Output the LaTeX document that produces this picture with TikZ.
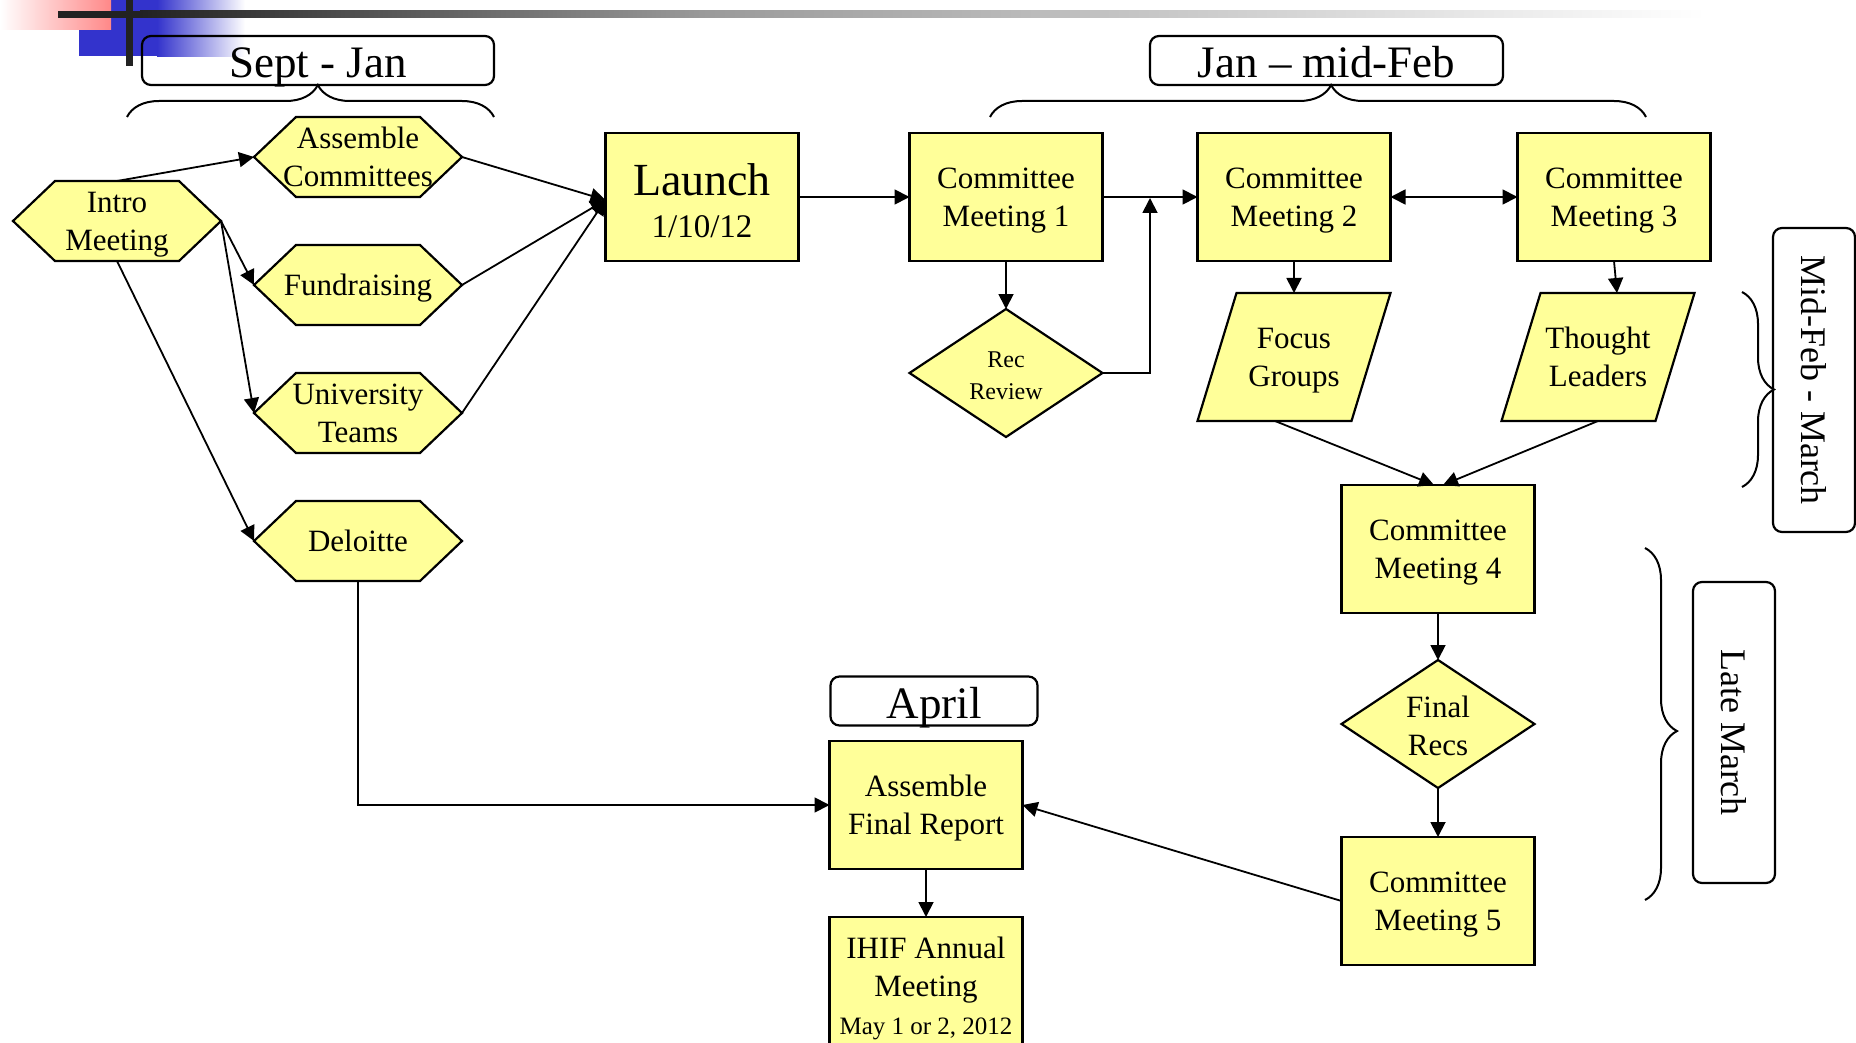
\documentclass[tikz,border=0pt]{standalone}
\usepackage{fontspec}
\setmainfont{Liberation Serif}
\usetikzlibrary{arrows.meta,calc,shapes.geometric,decorations.pathreplacing}

\definecolor{boxyellow}{RGB}{255,255,153}
\definecolor{barblue}{RGB}{51,51,204}
\definecolor{barpink}{RGB}{255,136,136}
\definecolor{bardark}{RGB}{34,34,34}
\definecolor{barmid}{RGB}{153,153,153}

\tikzset{
  ftri/.tip={Triangle[length=15pt,width=15pt]},
  lbl/.style={font=\fontsize{31}{38}\selectfont, align=center, inner sep=0pt, outer sep=0pt,
    text depth=0pt},
  box/.style={lbl, rectangle, draw, line width=2.2pt, fill=boxyellow,
    minimum width=193pt, minimum height=128pt},
  dmd/.style={lbl, diamond, draw, line width=2.2pt, fill=boxyellow,
    minimum width=193pt, minimum height=128pt},
  hexa/.style={lbl, rectangle, fill=white, minimum width=212pt, minimum height=84pt, outer sep=-2pt,
    path picture={
      \coordinate (hc) at (path picture bounding box.center);
      \filldraw[fill=boxyellow, draw=black, line width=2.2pt]
        ($(hc)+(-104,0)$) -- ($(hc)+(-62,-40)$) -- ($(hc)+(62,-40)$) -- ($(hc)+(104,0)$)
        -- ($(hc)+(62,40)$) -- ($(hc)+(-62,40)$) -- cycle;
    }},
  para/.style={lbl, rectangle, fill=white, minimum width=197pt, minimum height=132pt, outer sep=-2pt,
    path picture={
      \coordinate (pc) at (path picture bounding box.center);
      \filldraw[fill=boxyellow, draw=black, line width=2.2pt]
        ($(pc)+(-96.5,64)$) -- ($(pc)+(57.5,64)$) -- ($(pc)+(96.5,-64)$)
        -- ($(pc)+(-57.5,-64)$) -- cycle;
    }},
  period/.style={rectangle, rounded corners=9pt, draw, line width=2.2pt,
    inner sep=0pt, outer sep=0pt, align=center},
  periodh/.style={period, font=\fontsize{45}{48}\selectfont, text height=35pt,
    text depth=0pt, minimum height=49pt},
  periodv/.style={period, font=\fontsize{36}{40}\selectfont, rotate=-90, minimum height=82pt},
  link/.style={line width=1.8pt, -ftri},
  curly/.style={line width=2pt, decorate, decoration={brace, amplitude=32pt, aspect=#1}},
  curly/.default=0.5,
}

\begin{document}
\begin{tikzpicture}[x=1pt, y=-1pt]
\useasboundingbox (0,0) rectangle (1856,1043);

% corner banner
\fill[barblue] (79,0) rectangle (157.5,56);
\shade[left color=barblue, right color=white] (157,0) rectangle (245,57);
\shade[left color=white, right color=barpink] (0,0) rectangle (111,30);
\fill[bardark] (58,11) rectangle (140.5,18);
\shade[left color=bardark, right color=barmid] (140,11) rectangle (700.5,18);
\shade[left color=barmid, right color=white] (700,11) rectangle (1705,18);
\fill[bardark] (126,0) rectangle (133,66);

% preparation stage
\node[hexa] (intro) at (117,221) {Intro\\Meeting};
\node[hexa] (assemble) at (358,157) {Assemble\\Committees};
\node[hexa] (fund) at (358,285) {Fundraising};
\node[hexa] (univ) at (358,413) {University\\Teams};
\node[hexa] (deloitte) at (358,541) {Deloitte};

% launch and committee meetings
\node[box] (launch) at (702,197)
  {{\fontsize{46}{50}\selectfont\rule{0pt}{39pt}Launch}\\[5pt]{\fontsize{33}{38}\selectfont 1/10/12}};
\node[box] (cm1) at (1006,197) {Committee\\Meeting 1};
\node[dmd, font=\fontsize{24}{32}\selectfont] (rec) at (1006,373) {\rule{0pt}{20pt}Rec\\Review};
\node[box] (cm2) at (1294,197) {Committee\\Meeting 2};
\node[box] (cm3) at (1614,197) {Committee\\Meeting 3};
\node[para] (fg) at (1294,357) {Focus\\Groups};
\node[para] (tl) at (1598,357) {Thought\\Leaders};
\node[box] (cm4) at (1438,549) {Committee\\Meeting 4};
\node[dmd] (final) at (1438,724) {\rule{0pt}{25pt}Final\\Recs};
\node[box] (cm5) at (1438,901) {Committee\\Meeting 5};

% report
\node[box] (afr) at (926,805) {Assemble\\Final Report};
\node[box] (ihif) at (926,981)
  {\rule{0pt}{30pt}IHIF Annual\\Meeting\\{\fontsize{25}{30}\selectfont May 1 or 2, 2012}};

% period labels
\node[periodh, minimum width=352pt] (sept) at (318,60.5) {Sept - Jan};
\node[periodh, minimum width=353pt] (janfeb) at (1326.5,60.5) {Jan – mid-Feb};
\node[periodh, minimum width=207pt] (april) at (934,701) {April};
\node[periodv, minimum width=304pt] (midfeb) at (1814,380) {Mid-Feb - March};
\node[periodv, minimum width=301pt] (latemar) at (1734,732.5) {Late March};

% braces
\draw[curly=0.52] (127,117) -- (494,117);
\draw[curly=0.52] (990,117) -- (1646,117);
\draw[curly=0.5] (1742,292) -- (1742,487);
\draw[curly=0.52] (1645,548) -- (1645,900);

% connectors
\coordinate (launchin) at ($(launch.west)+(0,3)$);
\draw[link] (intro.north) -- (assemble.west);
\draw[link] (intro.east) -- (fund.west);
\draw[link] (intro.east) -- (univ.west);
\draw[link] (intro.south) -- (deloitte.west);
\draw[link] (assemble.east) -- (launchin);
\draw[link] (fund.east) -- (launchin);
\draw[link] (univ.east) -- (launchin);
\draw[link] (launch.east) -- (cm1.west);
\draw[link] (cm1.east) -- (cm2.west);
\draw[link] (cm1.south) -- (rec.north);
\coordinate (loopin) at ($(cm1.east)!0.5!(cm2.west)+(0,1)$);
\draw[link] (rec.east) -| (loopin);
\draw[line width=1.8pt, ftri-ftri] (cm2.east) -- (cm3.west);
\draw[link] (cm2.south) -- (fg.north);
\draw[link] (cm3.south) -- ($(tl.north)+(19,0)$);
\draw[link] ($(fg.south)+(-19,0)$) -- ($(cm4.north)+(-4,0)$);
\draw[link] (tl.south) -- ($(cm4.north)+(5,0)$);
\draw[link] (cm4.south) -- (final.north);
\draw[link] (final.south) -- (cm5.north);
\draw[link] (cm5.west) -- (afr.east);
\draw[link] (deloitte.south) |- (afr.west);
\draw[link] (afr.south) -- (ihif.north);
\end{tikzpicture}
\end{document}
